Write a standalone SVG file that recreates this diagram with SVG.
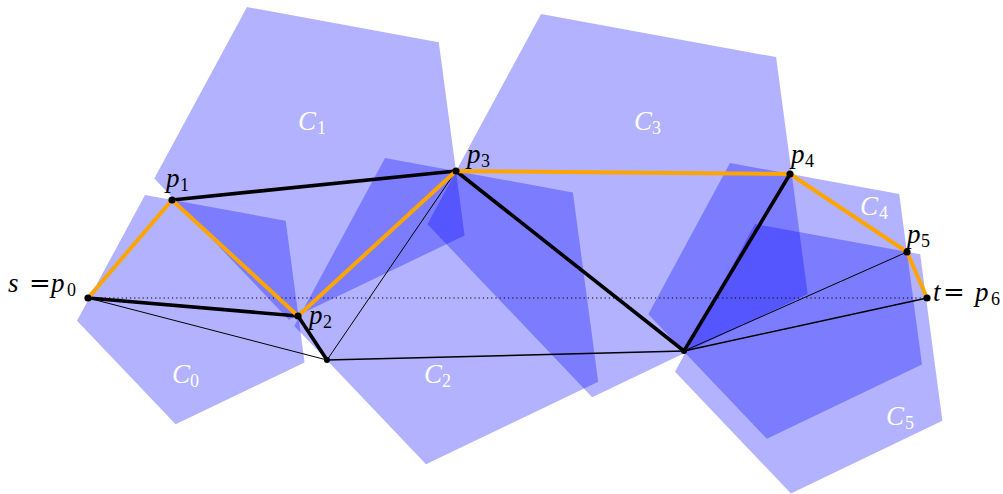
<svg xmlns="http://www.w3.org/2000/svg" width="1003" height="494" viewBox="0 0 1003 494">
<style>
.cell{fill:#0000ff;fill-opacity:0.3;stroke:none}
text{font-family:'Liberation Serif','DejaVu Serif',serif}
.lab{font-size:27px;font-style:italic}
.sub{font-size:18px;font-style:normal}
.eq{font-family:'DejaVu Serif','Liberation Serif',serif;font-size:26px;font-style:normal}
.w{fill:#ffffff}
.k{fill:#000000}
.thin{stroke:#000;stroke-width:1;fill:none}
.thick{stroke:#000;stroke-width:3.6;fill:none;stroke-linecap:round;stroke-linejoin:round}
.orange{stroke:#ffa500;stroke-width:4;fill:none;stroke-linejoin:round}
.dot{stroke:#000;stroke-width:1.2;stroke-dasharray:1.2 3;fill:none}
</style>
<g id="C0"><polygon class="cell" points="145,195 285.7,220.8 304.6,362.5 175.6,424.3 77,320.7"/><text class="lab w" font-family="Liberation Serif" x="172" y="383">C</text><text class="sub w" font-family="Liberation Serif" x="190" y="387">0</text></g>
<g id="C1"><polygon class="cell" points="247,7 438.8,42.2 464.6,235.5 288.8,319.8 154.3,178.6"/><text class="lab w" font-family="Liberation Serif" x="298" y="130">C</text><text class="sub w" font-family="Liberation Serif" x="317" y="134">1</text></g>
<g id="C2"><polygon class="cell" points="385,158 572.9,192.5 598.2,381.8 426,464.3 294.3,326"/><text class="lab w" font-family="Liberation Serif" x="424" y="383">C</text><text class="sub w" font-family="Liberation Serif" x="442" y="387">2</text></g>
<g id="C3"><polygon class="cell" points="541,14 776.1,57.1 807.7,294 592.2,397.3 427.4,224.2"/><text class="lab w" font-family="Liberation Serif" x="634" y="130">C</text><text class="sub w" font-family="Liberation Serif" x="652" y="134">3</text></g>
<g id="C4"><polygon class="cell" points="730,163 899.2,194 922,364.5 766.9,438.8 648.3,314.2"/><text class="lab w" font-family="Liberation Serif" x="860" y="215">C</text><text class="sub w" font-family="Liberation Serif" x="879" y="219">4</text></g>
<g id="C5"><polygon class="cell" points="755,224 920.2,254.3 942.4,420.8 790.9,493.4 675,371.7"/><text class="lab w" font-family="Liberation Serif" x="886" y="425">C</text><text class="sub w" font-family="Liberation Serif" x="905" y="429">5</text></g>
<g id="connectors">
<line class="dot" x1="88" y1="298" x2="927" y2="298"/>
<line class="thin" x1="88" y1="298" x2="327" y2="360"/>
<line class="thin" x1="327" y1="360" x2="456" y2="171"/>
<line class="thin" x1="327" y1="360" x2="684" y2="351" style="stroke-width:1.5"/>
<line class="thin" x1="684" y1="351" x2="907" y2="252"/>
<line class="thin" x1="684" y1="351" x2="927" y2="298" style="stroke-width:1.5"/>
<polyline class="thick" points="88,298 298,316 327,360"/>
<polyline class="thick" points="172,200 456,171 684,351 790,174"/>
<polyline class="orange" points="88,298 172,200 298,316 456,171 790,174 907,252 927,298"/>
</g>
<g id="p0"><circle cx="88" cy="298" r="3.6"/><text class="lab k" font-family="Liberation Serif" x="8" y="292">s</text><text class="eq k" x="29" y="292">=</text><text class="lab k" font-family="Liberation Serif" x="51" y="292">p</text><text class="sub k" font-family="Liberation Serif" x="67" y="296">0</text></g>
<g id="p1"><circle cx="172" cy="200" r="3.6"/><text class="lab k" font-family="Liberation Serif" x="166" y="187">p</text><text class="sub k" font-family="Liberation Serif" x="180" y="191">1</text></g>
<g id="p2"><circle cx="298" cy="316" r="3.6"/><text class="lab k" font-family="Liberation Serif" x="309" y="324">p</text><text class="sub k" font-family="Liberation Serif" x="323" y="328">2</text></g>
<g id="p3"><circle cx="456" cy="171" r="3.6"/><text class="lab k" font-family="Liberation Serif" x="467" y="163">p</text><text class="sub k" font-family="Liberation Serif" x="481" y="167">3</text></g>
<g id="p4"><circle cx="790" cy="174" r="3.6"/><text class="lab k" font-family="Liberation Serif" x="791" y="163">p</text><text class="sub k" font-family="Liberation Serif" x="805" y="167">4</text></g>
<g id="p5"><circle cx="907" cy="252" r="3.6"/><text class="lab k" font-family="Liberation Serif" x="907" y="243">p</text><text class="sub k" font-family="Liberation Serif" x="921" y="247">5</text></g>
<g id="p6"><circle cx="927" cy="298" r="3.6"/><text class="lab k" font-family="Liberation Serif" x="933" y="301">t</text><text class="eq k" x="943" y="301">=</text><text class="lab k" font-family="Liberation Serif" x="975" y="301">p</text><text class="sub k" font-family="Liberation Serif" x="991" y="305">6</text></g>
<g id="q1"><circle cx="327" cy="360" r="3"/></g>
<g id="q2"><circle cx="684" cy="351" r="3"/></g>
</svg>
